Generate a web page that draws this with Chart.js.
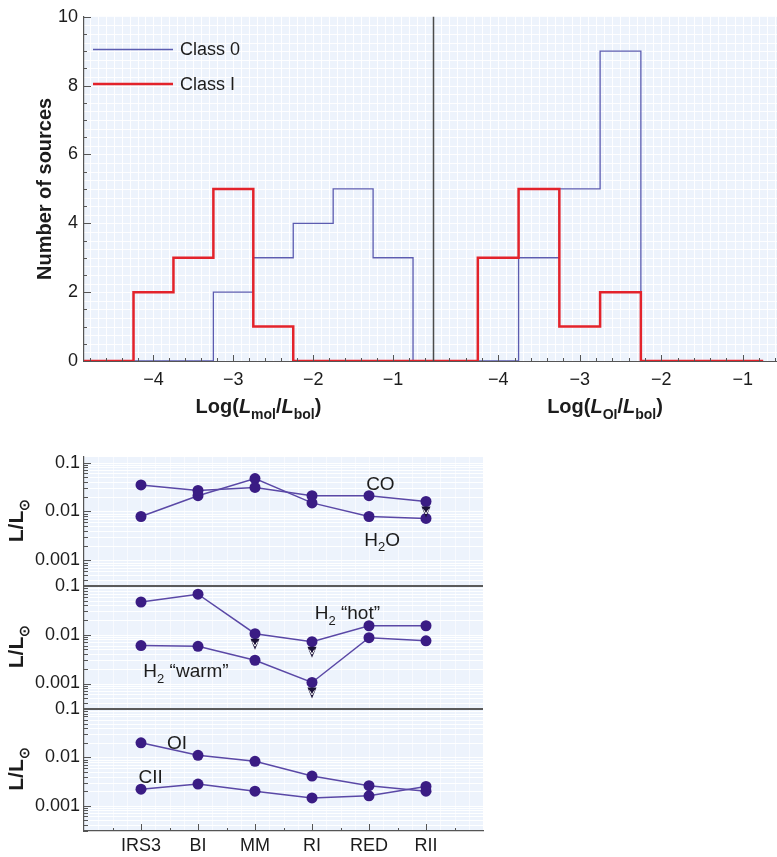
<!DOCTYPE html>
<html>
<head>
<meta charset="utf-8">
<script src="https://cdn.jsdelivr.net/npm/chart.js@4.4.1/dist/chart.umd.min.js"></script>
<style>
  html, body { margin: 0; padding: 0; background: #ffffff; }
  #page { position: relative; width: 777px; height: 857px; overflow: hidden; }
  #hist { position: absolute; left: 0; top: 0; }
  #lum  { position: absolute; left: 0; top: 420px; }
</style>
</head>
<body>
<div id="page">
  <canvas id="hist" width="777" height="420"></canvas>
  <canvas id="lum" width="500" height="437"></canvas>
</div>
<script>
// ---------- histogram data (bins of width 0.5 in log luminosity ratio) ----------
const binLeftEdges = [-4.75, -4.25, -3.75, -3.25, -2.75, -2.25, -1.75, -1.25];
const binWidth = 0.5;
const molClass0 = [0, 0, 0, 2, 3, 4, 5, 3];
const molClassI = [0, 2, 3, 5, 1, 0, 0, 0];
const oiClass0  = [0, 0, 3, 5, 9, 0, 0, 0];
const oiClassI  = [0, 3, 5, 1, 2, 0, 0, 0];
const molAxisRange = [-4.87, -0.5];
const oiAxisRange  = [-4.8, -0.58];
const countTickLabels = [0, 2, 4, 6, 8, 10];
const histLegend = ['Class 0', 'Class I'];

// ---------- luminosity per source ----------
const sources    = ['IRS3', 'BI', 'MM', 'RI', 'RED', 'RII'];
const coLum      = [0.035, 0.027, 0.031, 0.021, 0.021, 0.016];
const h2oLum     = [0.0079, 0.021, 0.047, 0.015, 0.0079, 0.0072];
const h2HotLum   = [0.047, 0.068, 0.0105, 0.0072, 0.0153, 0.0153];
const h2WarmLum  = [0.006, 0.0058, 0.003, 0.00105, 0.0087, 0.0075];
const oiLum      = [0.020, 0.011, 0.0083, 0.0041, 0.0026, 0.0020];
const ciiLum     = [0.0022, 0.0028, 0.0020, 0.00145, 0.0016, 0.0025];
// upper limits (1 = value is an upper limit)
const coUpper     = [0, 0, 0, 0, 0, 1];
const h2HotUpper  = [0, 0, 1, 1, 0, 0];
const h2WarmUpper = [0, 0, 0, 1, 0, 0];
const lumTickLabels = { '-1': '0.1', '-2': '0.01', '-3': '0.001' };

const FONT = '"Liberation Sans", Arial, Helvetica, sans-serif';
const INK = '#1c1c1c';
const AXIS = '#555555';
const RED = '#e3232b';
const BLUE = '#5c5cb0';
const PURPLE_LINE = '#5a48a6';
const PURPLE_DOT = '#3a1c84';

// draws a run of text pieces (some italic / subscript) centred on cx
function richText(ctx, parts, cx, baseline, size, bold, align) {
  const sub = Math.round(size * 0.68);
  const fontFor = p => `${p.italic ? 'italic ' : ''}${bold ? 'bold ' : ''}${p.sub ? sub : size}px ${FONT}`;
  let total = 0;
  parts.forEach(p => { ctx.font = fontFor(p); total += ctx.measureText(p.t).width; });
  let x = align === 'left' ? cx : cx - total / 2;
  ctx.textAlign = 'left';
  ctx.textBaseline = 'alphabetic';
  parts.forEach(p => {
    ctx.font = fontFor(p);
    ctx.fillText(p.t, x, baseline + (p.sub ? size * 0.3 : 0));
    x += ctx.measureText(p.t).width;
  });
}

function hline(ctx, x1, x2, y) { ctx.beginPath(); ctx.moveTo(x1, y); ctx.lineTo(x2, y); ctx.stroke(); }
function vline(ctx, x, y1, y2) { ctx.beginPath(); ctx.moveTo(x, y1); ctx.lineTo(x, y2); ctx.stroke(); }

function stepPoints(counts, from, to) {
  const pts = [{ x: from, y: 0 }];
  counts.forEach((c, i) => pts.push({ x: binLeftEdges[i], y: c }));
  const last = binLeftEdges[binLeftEdges.length - 1] + binWidth;
  pts.push({ x: last, y: 0 });
  if (to > last) pts.push({ x: to, y: 0 });
  return pts;
}

const negLabel = v => (Math.abs(v - Math.round(v)) < 1e-6 && Math.round(v) !== 0)
  ? (Math.round(v) < 0 ? '\u2212' + Math.abs(Math.round(v)) : String(Math.round(v))) : '';

// ---------- histogram decorations ----------
const histDecor = {
  id: 'histDecor',
  beforeDraw(chart) {
    const { ctx, chartArea: a, scales } = chart;
    ctx.save();
    ctx.fillStyle = '#edf3fc';
    ctx.fillRect(a.left, a.top, a.right - a.left, a.bottom - a.top);
    ctx.strokeStyle = 'rgba(255,255,255,0.9)';
    ctx.lineWidth = 1;
    ['xMol', 'xOI'].forEach(id => {
      const s = scales[id];
      for (let k = Math.ceil(s.min * 10); k <= Math.floor(s.max * 10); k++) {
        const p = Math.round(s.getPixelForValue(k / 10)) + 0.5;
        vline(ctx, p, a.top, a.bottom);
      }
    });
    const y = scales.y;
    for (let k = 1; k < 40; k++) {
      const p = Math.round(y.getPixelForValue(k / 4)) + 0.5;
      hline(ctx, a.left, a.right, p);
    }
    ctx.restore();
  },
  afterDraw(chart) {
    const { ctx, chartArea: a, scales } = chart;
    ctx.save();
    ctx.strokeStyle = AXIS;
    ctx.lineWidth = 1;
    // tick marks pointing into the plot
    ['xMol', 'xOI'].forEach(id => {
      const s = scales[id];
      for (let k = Math.ceil(s.min * 5); k <= Math.floor(s.max * 5); k++) {
        const p = Math.round(s.getPixelForValue(k / 5)) + 0.5;
        vline(ctx, p, a.bottom, a.bottom - (k % 5 === 0 ? 6 : 3));
      }
    });
    const y = scales.y;
    for (let k = 0; k <= 20; k++) {
      const p = Math.round(y.getPixelForValue(k / 2)) + 0.5;
      hline(ctx, a.left, a.left + (k % 4 === 0 ? 7 : 3), p);
    }
    // panel divider
    ctx.lineWidth = 1.5;
    ctx.strokeStyle = '#4a4a4a';
    vline(ctx, Math.round(scales.xOI.left) + 0.5, a.top, a.bottom);
    // legend
    const lx = a.left + 9;
    [[BLUE, 1.3, 9.05, histLegend[0]], [RED, 2.5, 8.05, histLegend[1]]].forEach(([col, w, v, txt]) => {
      const py = y.getPixelForValue(v);
      ctx.strokeStyle = col; ctx.lineWidth = w;
      hline(ctx, lx, lx + 80, py);
      ctx.fillStyle = INK;
      ctx.font = `18px ${FONT}`;
      ctx.textAlign = 'left'; ctx.textBaseline = 'middle';
      ctx.fillText(txt, lx + 87, py + 1);
    });
    // axis titles
    ctx.fillStyle = INK;
    const ty = 413;
    const mk = sub => [
      { t: 'Log(' }, { t: 'L', italic: true }, { t: sub, sub: true },
      { t: '/' }, { t: 'L', italic: true }, { t: 'bol', sub: true }, { t: ')' }
    ];
    richText(ctx, mk('mol'), (scales.xMol.left + scales.xMol.right) / 2, ty, 20, true);
    richText(ctx, mk('OI'), (scales.xOI.left + scales.xOI.right) / 2, ty, 20, true);
    ctx.restore();
  }
};

const tickFont = { family: FONT, size: 18 };

const histXAxis = (range, weight) => ({
  type: 'linear', position: 'bottom', stack: 'hist', stackWeight: weight,
  min: range[0], max: range[1],
  grid: { display: false, drawTicks: false },
  border: { display: true, color: AXIS, width: 1 },
  ticks: { stepSize: 1, includeBounds: false, autoSkip: false, maxRotation: 0, font: tickFont, color: INK, padding: 8, callback: negLabel },
  afterFit(s) { s.height = 59; }
});

new Chart(document.getElementById('hist'), {
  type: 'line',
  data: {
    datasets: [
      { label: 'Class I mol', data: stepPoints(molClassI, molAxisRange[0], molAxisRange[1]), xAxisID: 'xMol', borderColor: RED, borderWidth: 2.5 },
      { label: 'Class I OI', data: stepPoints(oiClassI, oiAxisRange[0], -0.75), xAxisID: 'xOI', borderColor: RED, borderWidth: 2.5 },
      { label: 'Class 0 mol', data: stepPoints(molClass0, molAxisRange[0], molAxisRange[1]), xAxisID: 'xMol', borderColor: BLUE, borderWidth: 1.3 },
      { label: 'Class 0 OI', data: stepPoints(oiClass0, oiAxisRange[0], -0.75), xAxisID: 'xOI', borderColor: BLUE, borderWidth: 1.3 }
    ]
  },
  options: {
    responsive: false,
    animation: false,
    layout: { padding: { top: 14, right: 0, left: 0, bottom: 0 } },
    elements: { point: { radius: 0 }, line: { stepped: true, fill: false } },
    plugins: { legend: { display: false }, tooltip: { enabled: false } },
    scales: {
      xMol: histXAxis(molAxisRange, 349),
      xOI: histXAxis(oiAxisRange, 344),
      y: {
        type: 'linear', min: 0, max: 10,
        grid: { display: false, drawTicks: false },
        border: { display: true, color: AXIS, width: 1.2 },
        ticks: {
          stepSize: 2, font: tickFont, color: INK, padding: 6,
          callback: v => countTickLabels.includes(v) ? String(v) : ''
        },
        title: { display: true, text: 'Number of sources', color: INK, font: { family: FONT, size: 20, weight: 'bold' }, padding: { top: 33, bottom: 0 } },
        afterFit(s) { s.width = 84; }
      }
    }
  },
  plugins: [histDecor]
});

// ---------- luminosity panels ----------
const lumSeries = [
  { label: 'CO', data: coLum, axis: 'yA', upper: coUpper },
  { label: 'H2O', data: h2oLum, axis: 'yA' },
  { label: 'H2 hot', data: h2HotLum, axis: 'yB', upper: h2HotUpper },
  { label: 'H2 warm', data: h2WarmLum, axis: 'yB', upper: h2WarmUpper },
  { label: 'OI', data: oiLum, axis: 'yC' },
  { label: 'CII', data: ciiLum, axis: 'yC' }
];

const lumNotes = [
  { axis: 'yA', x: 4.2, y: 0.039, parts: [{ t: 'CO' }] },
  { axis: 'yA', x: 4.23, y: 0.0028, parts: [{ t: 'H' }, { t: '2', sub: true }, { t: 'O' }] },
  { axis: 'yB', x: 3.62, y: 0.029, parts: [{ t: 'H' }, { t: '2', sub: true }, { t: ' \u201Chot\u201D' }] },
  { axis: 'yB', x: 0.79, y: 0.0019, parts: [{ t: 'H' }, { t: '2', sub: true }, { t: ' \u201Cwarm\u201D' }] },
  { axis: 'yC', x: 0.63, y: 0.021, parts: [{ t: 'OI' }] },
  { axis: 'yC', x: 0.17, y: 0.0041, parts: [{ t: 'CII' }] }
];

function logTickValues(s) {
  const out = [];
  for (let e = -4; e <= -1; e++) {
    for (let m = 1; m <= 9; m++) {
      const v = m * Math.pow(10, e);
      if (v >= s.min * 0.9999 && v <= s.max * 1.0001) out.push({ v, major: m === 1 });
    }
  }
  return out;
}

const lumDecor = {
  id: 'lumDecor',
  beforeDraw(chart) {
    const { ctx, chartArea: a, scales } = chart;
    ctx.save();
    ctx.fillStyle = '#edf3fc';
    ctx.fillRect(a.left, a.top, a.right - a.left, a.bottom - a.top);
    ctx.strokeStyle = 'rgba(255,255,255,0.95)';
    ctx.lineWidth = 1;
    ['yA', 'yB', 'yC'].forEach(id => {
      const s = scales[id];
      logTickValues(s).forEach(t => {
        const p = Math.round(s.getPixelForValue(t.v)) + 0.5;
        hline(ctx, a.left, a.right, p);
      });
    });
    const x = scales.x;
    ctx.strokeStyle = 'rgba(255,255,255,0.6)';
    for (let k = -3; k <= 23; k++) {
      const p = Math.round(x.getPixelForValue(k / 4)) + 0.5;
      vline(ctx, p, a.top, a.bottom);
    }
    ctx.restore();
  },
  afterDatasetsDraw(chart) {
    const { ctx, scales } = chart;
    ctx.save();
    // upper-limit arrows
    lumSeries.forEach((ser, di) => {
      if (!ser.upper) return;
      const meta = chart.getDatasetMeta(di);
      ser.upper.forEach((u, i) => {
        if (!u) return;
        const pt = meta.data[i];
        const x = pt.x, y = pt.y;
        ctx.fillStyle = '#1b1238';
        ctx.beginPath();
        ctx.moveTo(x - 4.5, y + 5);
        ctx.lineTo(x + 4.5, y + 5);
        ctx.lineTo(x, y + 16);
        ctx.closePath();
        ctx.fill();
        ctx.strokeStyle = '#ffffff';
        ctx.lineWidth = 1;
        ctx.beginPath();
        ctx.moveTo(x - 2.5, y + 8);
        ctx.lineTo(x, y + 12.5);
        ctx.lineTo(x + 2.5, y + 8);
        ctx.stroke();
      });
    });
    // series names
    ctx.fillStyle = INK;
    lumNotes.forEach(n => {
      const px = scales.x.getPixelForValue(n.x);
      const py = scales[n.axis].getPixelForValue(n.y);
      richText(ctx, n.parts, px, py + 7, 19, false);
    });
    ctx.restore();
  },
  afterDraw(chart) {
    const { ctx, chartArea: a, scales } = chart;
    ctx.save();
    ctx.strokeStyle = AXIS;
    ctx.lineWidth = 1;
    ['yA', 'yB', 'yC'].forEach(id => {
      const s = scales[id];
      logTickValues(s).forEach(t => {
        const p = Math.round(s.getPixelForValue(t.v)) + 0.5;
        hline(ctx, a.left, a.left + (t.major ? 7 : 4), p);
      });
    });
    const x = scales.x;
    for (let k = -1; k <= 11; k++) {
      const p = Math.round(x.getPixelForValue(k / 2)) + 0.5;
      vline(ctx, p, a.bottom, a.bottom - (k % 2 === 0 ? 7 : 3));
    }
    // panel dividers
    ctx.strokeStyle = '#5a5a5a';
    ctx.lineWidth = 2;
    hline(ctx, a.left, a.right, Math.round(scales.yB.top));
    hline(ctx, a.left, a.right, Math.round(scales.yC.top));
    // axis titles L/L_sun
    ctx.fillStyle = INK;
    ['yA', 'yB', 'yC'].forEach(id => {
      const s = scales[id];
      ctx.save();
      ctx.translate(15, (s.top + s.bottom) / 2 - 1);
      ctx.rotate(-Math.PI / 2);
      richText(ctx, [{ t: 'L/L' }, { t: '\u2299', sub: true }], 0, 8, 21, true);
      ctx.restore();
    });
    ctx.restore();
  }
};

const lumAxis = (weight, max) => ({
  type: 'logarithmic', position: 'left', stack: 'lum', stackWeight: weight,
  min: 0.0003, max: max,
  grid: { display: false, drawTicks: false },
  border: { display: true, color: AXIS, width: 1.2 },
  ticks: {
    autoSkip: false, font: tickFont, color: INK, padding: 4,
    callback: v => {
      const e = Math.log10(v);
      return Math.abs(e - Math.round(e)) < 1e-6 ? (lumTickLabels[String(Math.round(e))] || '') : '';
    }
  },
  afterFit(s) { s.width = 84; }
});

new Chart(document.getElementById('lum'), {
  type: 'line',
  data: {
    datasets: lumSeries.map(s => ({
      label: s.label,
      data: s.data.map((v, i) => ({ x: i, y: v })),
      yAxisID: s.axis,
      borderColor: PURPLE_LINE,
      borderWidth: 1.5,
      pointRadius: 5.5,
      pointBackgroundColor: PURPLE_DOT,
      pointBorderColor: PURPLE_DOT,
      pointBorderWidth: 0,
      tension: 0
    }))
  },
  options: {
    responsive: false,
    animation: false,
    clip: false,
    layout: { padding: { top: 37, right: 17, left: 0, bottom: 0 } },
    plugins: { legend: { display: false }, tooltip: { enabled: false } },
    scales: {
      x: {
        type: 'linear', position: 'bottom', min: -1, max: 6,
        grid: { display: false, drawTicks: false },
        border: { display: true, color: AXIS, width: 1.2 },
        ticks: {
          stepSize: 1, autoSkip: false, maxRotation: 0, font: tickFont, color: INK, padding: 4,
          callback: v => (Number.isInteger(v) && sources[v] !== undefined) ? sources[v] : ''
        },
        afterFit(s) { s.height = 26; }
      },
      yC: lumAxis(122, 0.1),
      yB: lumAxis(123, 0.1),
      yA: lumAxis(129, 0.13)
    }
  },
  plugins: [lumDecor]
});
</script>
</body>
</html>
